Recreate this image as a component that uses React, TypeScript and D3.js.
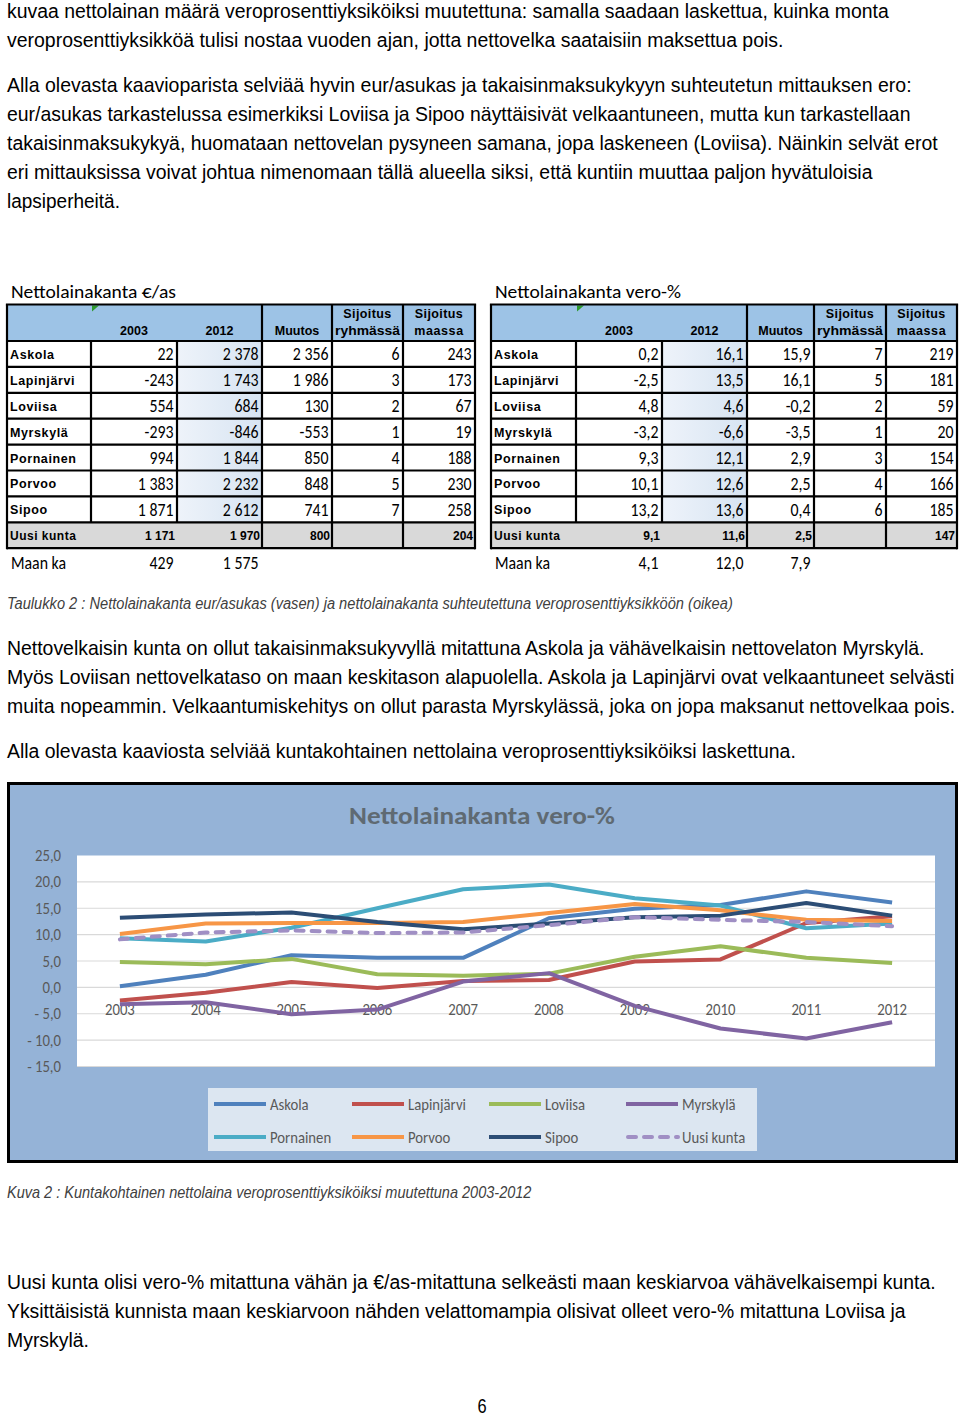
import React, { useLayoutEffect, useRef, useState } from "react";
import * as d3 from "d3";

// ---------- DATA ----------
const years = [2003, 2004, 2005, 2006, 2007, 2008, 2009, 2010, 2011, 2012];
const seriesNames = ["Askola", "Lapinjärvi", "Loviisa", "Myrskylä", "Pornainen", "Porvoo", "Sipoo", "Uusi kunta"];
const askola = [0.2, 2.4, 6.1, 5.6, 5.6, 13.1, 14.9, 15.6, 18.2, 16.1];
const lapinjarvi = [-2.5, -1.0, 1.0, -0.1, 1.2, 1.4, 4.9, 5.3, 12.2, 13.5];
const loviisa = [4.8, 4.4, 5.4, 2.5, 2.2, 2.6, 5.8, 7.8, 5.6, 4.6];
const myrskyla = [-3.2, -2.8, -5.1, -4.2, 1.1, 2.7, -3.5, -7.8, -9.7, -6.6];
const pornainen = [9.3, 8.7, 11.3, 15.0, 18.6, 19.5, 16.9, 15.5, 11.2, 12.1];
const porvoo = [10.1, 12.1, 12.2, 12.2, 12.4, 14.1, 15.8, 14.6, 12.8, 12.6];
const sipoo = [13.2, 13.8, 14.2, 12.4, 11.0, 12.1, 13.3, 13.6, 16.0, 13.6];
const uusiKunta = [9.1, 10.4, 10.8, 10.3, 10.4, 11.8, 13.3, 12.8, 12.4, 11.6];
const seriesValues = [askola, lapinjarvi, loviisa, myrskyla, pornainen, porvoo, sipoo, uusiKunta];
const seriesColors = ["#4F81BD", "#C0504D", "#9BBB59", "#8064A2", "#4BACC6", "#F79646", "#2C4D75", "#A08FC4"];
const yTicks = [25, 20, 15, 10, 5, 0, -5, -10, -15];

const municipalities = ["Askola", "Lapinjärvi", "Loviisa", "Myrskylä", "Pornainen", "Porvoo", "Sipoo"];
const eur2003 = [22, -243, 554, -293, 994, 1383, 1871];
const eur2012 = [2378, 1743, 684, -846, 1844, 2232, 2612];
const eurChange = [2356, 1986, 130, -553, 850, 848, 741];
const eurRankGroup = [6, 3, 2, 1, 4, 5, 7];
const eurRankCountry = [243, 173, 67, 19, 188, 230, 258];
const eurUusi = [1171, 1970, 800, null, 204];
const eurMaan = [429, 1575];

const vero2003 = [0.2, -2.5, 4.8, -3.2, 9.3, 10.1, 13.2];
const vero2012 = [16.1, 13.5, 4.6, -6.6, 12.1, 12.6, 13.6];
const veroChange = [15.9, 16.1, -0.2, -3.5, 2.9, 2.5, 0.4];
const veroRankGroup = [7, 5, 2, 1, 3, 4, 6];
const veroRankCountry = [219, 181, 59, 20, 154, 166, 185];
const veroUusi = [9.1, 11.6, 2.5, null, 147];
const veroMaan = [4.1, 12.0, 7.9];

// paragraphs: [text, right edge x]
const para1 = [
  ["kuvaa nettolainan määrä veroprosenttiyksiköiksi muutettuna: samalla saadaan laskettua, kuinka monta", 889],
  ["veroprosenttiyksikköä tulisi nostaa vuoden ajan, jotta nettovelka saataisiin maksettua pois.", 784],
];
const para2 = [
  ["Alla olevasta kaavioparista selviää hyvin eur/asukas ja takaisinmaksukykyyn suhteutetun mittauksen ero:", 912],
  ["eur/asukas tarkastelussa esimerkiksi Loviisa ja Sipoo näyttäisivät velkaantuneen, mutta kun tarkastellaan", 911],
  ["takaisinmaksukykyä, huomataan nettovelan pysyneen samana, jopa laskeneen (Loviisa). Näinkin selvät erot", 938],
  ["eri mittauksissa voivat johtua nimenomaan tällä alueella siksi, että kuntiin muuttaa paljon hyvätuloisia", 873],
  ["lapsiperheitä.", 120],
];
const para3 = [
  ["Nettovelkaisin kunta on ollut takaisinmaksukyvyllä mitattuna Askola ja vähävelkaisin nettovelaton Myrskylä.", 925],
  ["Myös Loviisan nettovelkataso on maan keskitason alapuolella. Askola ja Lapinjärvi ovat velkaantuneet selvästi", 955],
  ["muita nopeammin. Velkaantumiskehitys on ollut parasta Myrskylässä, joka on jopa maksanut nettovelkaa pois.", 956],
];
const para4 = [["Alla olevasta kaaviosta selviää kuntakohtainen nettolaina veroprosenttiyksiköiksi laskettuna.", 796]];
const para5 = [
  ["Uusi kunta olisi vero-% mitattuna vähän ja €/as-mitattuna selkeästi maan keskiarvoa vähävelkaisempi kunta.", 936],
  ["Yksittäisistä kunnista maan keskiarvoon nähden velattomampia olisivat olleet vero-% mitattuna Loviisa ja", 906],
  ["Myrskylä.", 89],
];

const NARROW = "'Liberation Sans Narrow', 'Arial Narrow', 'Liberation Sans', sans-serif";
const CAL = "Carlito, Calibri, Lato, sans-serif";
const ARIAL = "'Liberation Sans', Arial, sans-serif";

const fmtEur = (v: number | null) => (v === null ? "" : d3.format(",")(v).replace(/,/g, " ").replace("\u2212", "-"));
const fmtVero = (v: number | null) => (v === null ? "" : v.toFixed(1).replace(".", ","));
const fmtRank = (v: number | null) => (v === null ? "" : String(v));

// text horizontally scaled to a measured target width
function FitText({ x, y, width, children, ...rest }: any) {
  const ref = useRef<SVGTextElement>(null);
  const [s, setS] = useState(1);
  useLayoutEffect(() => {
    if (ref.current) {
      const len = ref.current.getComputedTextLength();
      if (len > 0) setS(width / len);
    }
  }, [width]);
  return (
    <text ref={ref} x={0} y={0} transform={`translate(${x},${y}) scale(${s},1)`} {...rest}>
      {children}
    </text>
  );
}

// text with a fixed horizontal squeeze
function SText({ x, y, sx, children, ...rest }: any) {
  return (
    <text x={0} y={0} transform={`translate(${x},${y}) scale(${sx},1)`} {...rest}>
      {children}
    </text>
  );
}

function Para({ lines, y0, x0 = 7 }: { lines: (string | number)[][]; y0: number; x0?: number }) {
  return (
    <g fontFamily={NARROW} fontSize={21} fill="#000">
      {lines.map((l, i) => (
        <FitText key={i} x={x0} y={y0 + i * 29} width={(l[1] as number) - x0}>
          {l[0]}
        </FitText>
      ))}
    </g>
  );
}

type TableProps = {
  cols: number[];
  title: string;
  titleW: number;
  gradId: string;
  c2003: string[];
  c2012: string[];
  cChange: string[];
  cRankG: string[];
  cRankC: string[];
  uusi: string[];
  maan: string[];
};

const NUM_SX = 0.88;

function DataTable(p: TableProps) {
  const cols = p.cols;
  const top = 304.5;
  const hb = 341;
  const rh = 25.9;
  const rowY = d3.range(9).map((i) => hb + i * rh);
  const bottom = rowY[8];
  const lw = 2.2;
  const bodyCols = [p.c2003, p.c2012, p.cChange, p.cRankG, p.cRankC];
  return (
    <g>
      <FitText x={cols[0] + 4} y={298} width={p.titleW} fontFamily={CAL} fontSize={18}>
        {p.title}
      </FitText>
      <rect x={cols[0]} y={top} width={cols[6] - cols[0]} height={hb - top} fill="#9DC3E6" />
      <rect x={cols[2]} y={rowY[0]} width={cols[3] - cols[2]} height={rowY[7] - rowY[0]} fill={`url(#${p.gradId})`} />
      <rect x={cols[0]} y={rowY[7]} width={cols[6] - cols[0]} height={rowY[8] - rowY[7]} fill="#D9D9D9" />
      <polygon points={`${cols[1] + 1},${top + 1} ${cols[1] + 8},${top + 1} ${cols[1] + 1},${top + 7}`} fill="#2E9A2E" />
      <g fontFamily={ARIAL} fontWeight="bold" fontSize={12.5} textAnchor="middle" fill="#000">
        <text x={(cols[1] + cols[2]) / 2} y={334.5}>2003</text>
        <text x={(cols[2] + cols[3]) / 2} y={334.5}>2012</text>
        <text x={(cols[3] + cols[4]) / 2} y={334.5}>Muutos</text>
        <text x={(cols[4] + cols[5]) / 2} y={318} letterSpacing={0.4}>Sijoitus</text>
        <FitText x={(cols[4] + cols[5]) / 2} y={334.5} width={cols[5] - cols[4] - 6}>ryhmässä</FitText>
        <text x={(cols[5] + cols[6]) / 2} y={318} letterSpacing={0.4}>Sijoitus</text>
        <text x={(cols[5] + cols[6]) / 2} y={334.5} letterSpacing={0.6}>maassa</text>
      </g>
      {municipalities.map((m, i) => {
        const cy = rowY[i] + rh / 2;
        return (
          <g key={m}>
            <text x={cols[0] + 3} y={cy + 5} fontFamily={ARIAL} fontWeight="bold" fontSize={12.5} letterSpacing={0.6}>
              {m}
            </text>
            {bodyCols.map((c, j) => (
              <SText key={j} x={cols[j + 2] - 3.5} y={cy + 6.5} sx={NUM_SX} textAnchor="end" fontFamily={CAL} fontSize={18}>
                {c[i]}
              </SText>
            ))}
          </g>
        );
      })}
      <g fontFamily={ARIAL} fontWeight="bold" fontSize={12}>
        <text x={cols[0] + 3} y={rowY[7] + rh / 2 + 4.5} letterSpacing={0.5}>Uusi kunta</text>
        {p.uusi.map((v, j) => (
          <text key={j} x={cols[j + 2] - 2} y={rowY[7] + rh / 2 + 4.5} textAnchor="end">
            {v}
          </text>
        ))}
      </g>
      <g fontFamily={CAL} fontSize={18}>
        <SText x={cols[0] + 4} y={568.5} sx={NUM_SX}>Maan ka</SText>
        {p.maan.map((v, j) => (
          <SText key={j} x={cols[j + 2] - 3.5} y={568.5} sx={NUM_SX} textAnchor="end">
            {v}
          </SText>
        ))}
      </g>
      <g stroke="#000" strokeWidth={lw}>
        <line x1={cols[0] - lw / 2} x2={cols[6] + lw / 2} y1={top} y2={top} />
        {rowY.map((y, i) => (
          <line key={i} x1={cols[0]} x2={cols[6]} y1={y} y2={y} />
        ))}
        {cols.map((x, j) => {
          const y1 = j === 1 || j === 2 ? hb : top;
          const y2 = j === 1 || j === 2 ? rowY[7] : bottom;
          return <line key={j} x1={x} x2={x} y1={y1} y2={y2 + (j === 0 || j === 6 ? lw / 2 : 0)} />;
        })}
      </g>
    </g>
  );
}

function LineChart() {
  const left = 77,
    right = 935,
    top = 855.5,
    bottom = 1066.5;
  const x = d3.scaleBand<number>().domain(years).range([left, right]);
  const y = d3.scaleLinear().domain([-15, 25]).range([bottom, top]);
  const cx = (yr: number) => (x(yr) as number) + x.bandwidth() / 2;
  const line = d3
    .line<number>()
    .x((_, i) => cx(years[i]))
    .y((v) => y(v));
  const legendX = [214, 352, 489, 626];
  const legendY = [1104, 1137];
  return (
    <g>
      <rect x={8.5} y={783.5} width={948} height={378} fill="#95B3D7" stroke="#000" strokeWidth={3} />
      <FitText x={482} y={824} width={266} textAnchor="middle" fontFamily={CAL} fontWeight="bold" fontSize={24} fill="#5F6A72">
        Nettolainakanta vero-%
      </FitText>
      <rect x={left} y={top} width={right - left} height={bottom - top} fill="#fff" />
      {yTicks.map((t) => (
        <g key={t}>
          {t !== 25 && <line x1={left} x2={right} y1={y(t)} y2={y(t)} stroke="#D9D9D9" strokeWidth={1.2} />}
          <SText x={61} y={y(t) + 5.5} sx={0.92} textAnchor="end" fontFamily={CAL} fontSize={16} fill="#595959">
            {t < 0 ? "- " + fmtVero(-t) : fmtVero(t)}
          </SText>
        </g>
      ))}
      {years.map((yr) => (
        <SText key={yr} x={cx(yr)} y={y(0) + 28} sx={0.92} textAnchor="middle" fontFamily={CAL} fontSize={16} fill="#595959">
          {yr}
        </SText>
      ))}
      {seriesValues.map((vals, i) => (
        <path
          key={i}
          d={line(vals) as string}
          fill="none"
          stroke={seriesColors[i]}
          strokeWidth={4}
          strokeLinejoin="round"
          strokeLinecap={i === 7 ? "round" : "butt"}
          strokeDasharray={i === 7 ? "8 8" : undefined}
        />
      ))}
      <rect x={208} y={1088} width={549} height={63} fill="#DCE6F1" />
      {seriesNames.map((n, i) => {
        const lx = legendX[i % 4];
        const ly = legendY[Math.floor(i / 4)];
        return (
          <g key={n}>
            <line
              x1={lx + (i === 7 ? 2 : 0)}
              x2={lx + 52}
              y1={ly}
              y2={ly}
              stroke={seriesColors[i]}
              strokeWidth={4}
              strokeLinecap={i === 7 ? "round" : "butt"}
              strokeDasharray={i === 7 ? "8 8" : undefined}
            />
            <SText x={lx + 56} y={ly + 5.5} sx={0.92} fontFamily={CAL} fontSize={16} fill="#595959">
              {n}
            </SText>
          </g>
        );
      })}
    </g>
  );
}

export default function App() {
  return (
    <svg
      width={960}
      height={1418}
      style={{ position: "absolute", left: 0, top: 0, background: "#fff" }}
      xmlns="http://www.w3.org/2000/svg"
    >
      <defs>
        <linearGradient id="g1" x1="0" x2="1" y1="0" y2="0">
          <stop offset="0" stopColor="#EEF3FA" />
          <stop offset="1" stopColor="#D7E4F2" />
        </linearGradient>
        <linearGradient id="g2" x1="0" x2="1" y1="0" y2="0">
          <stop offset="0" stopColor="#EEF3FA" />
          <stop offset="1" stopColor="#D7E4F2" />
        </linearGradient>
      </defs>
      <rect width={960} height={1418} fill="#fff" />
      <Para lines={para1} y0={18} />
      <Para lines={para2} y0={92} />
      <DataTable
        cols={[7, 91, 177, 262, 332, 403, 475]}
        title="Nettolainakanta €/as"
        titleW={165}
        gradId="g1"
        c2003={eur2003.map(fmtEur)}
        c2012={eur2012.map(fmtEur)}
        cChange={eurChange.map(fmtEur)}
        cRankG={eurRankGroup.map(fmtRank)}
        cRankC={eurRankCountry.map(fmtRank)}
        uusi={eurUusi.map(fmtEur)}
        maan={eurMaan.map(fmtEur)}
      />
      <DataTable
        cols={[491, 576, 662, 747, 814, 886, 957]}
        title="Nettolainakanta vero-%"
        titleW={186}
        gradId="g2"
        c2003={vero2003.map(fmtVero)}
        c2012={vero2012.map(fmtVero)}
        cChange={veroChange.map(fmtVero)}
        cRankG={veroRankGroup.map(fmtRank)}
        cRankC={veroRankCountry.map(fmtRank)}
        uusi={veroUusi.map((v, i) => (i === 4 ? fmtRank(v) : fmtVero(v)))}
        maan={veroMaan.map(fmtVero)}
      />
      <FitText x={7} y={609} width={726} fontFamily={NARROW} fontStyle="italic" fontSize={16} fill="#404040">
        Taulukko 2 : Nettolainakanta eur/asukas (vasen)  ja nettolainakanta suhteutettuna veroprosenttiyksikköön (oikea)
      </FitText>
      <Para lines={para3} y0={655} />
      <Para lines={para4} y0={758} />
      <LineChart />
      <FitText x={7} y={1198} width={525} fontFamily={NARROW} fontStyle="italic" fontSize={16} fill="#404040">
        Kuva 2 : Kuntakohtainen nettolaina veroprosenttiyksiköiksi muutettuna 2003-2012
      </FitText>
      <Para lines={para5} y0={1289} />
      <SText x={482} y={1413} sx={0.82} textAnchor="middle" fontFamily={NARROW} fontSize={20}>
        6
      </SText>
    </svg>
  );
}
